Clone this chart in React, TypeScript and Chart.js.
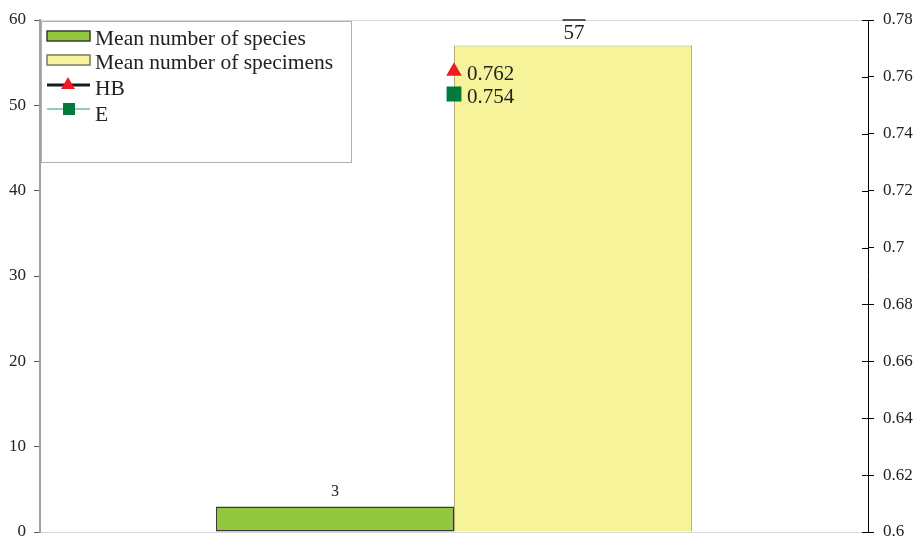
import React, { useEffect, useRef } from 'react';
import { Chart, registerables } from 'chart.js';

Chart.register(...registerables);

const categories = [''];
const speciesValues = [3];
const specimensValues = [57];
const hbValues = [0.762];
const eValues = [0.754];
const seriesNames = ['Mean number of species', 'Mean number of specimens', 'HB', 'E'];
const leftMin = 0;
const leftMax = 60;
const leftStep = 10;
const rightMin = 0.6;
const rightMax = 0.78;
const rightStep = 0.02;

const FONT = '"Liberation Serif", "Times New Roman", serif';
const GREEN = '#93C83E';
const YELLOW = '#F6F39B';
const RED = '#ED1C24';
const DKGREEN = '#007A3D';
const TEAL = '#6BBF9E';

const fmt = (v: number) => String(Number(v.toFixed(2)));

const labelsPlugin = {
  id: 'customLabels',
  afterDatasetsDraw(chart: any) {
    const ctx = chart.ctx;
    ctx.save();
    ctx.fillStyle = '#222';
    ctx.textBaseline = 'alphabetic';
    const m0 = chart.getDatasetMeta(0);
    m0.data.forEach((el: any, i: number) => {
      ctx.font = `16px ${FONT}`;
      ctx.textAlign = 'center';
      ctx.fillText(String(speciesValues[i]), el.x, el.y - 10);
    });
    const m1 = chart.getDatasetMeta(1);
    m1.data.forEach((el: any, i: number) => {
      ctx.font = `21px ${FONT}`;
      ctx.textAlign = 'center';
      const tx = el.x + 1;
      const ty = el.y - 7;
      const txt = String(specimensValues[i]);
      ctx.fillText(txt, tx, ty);
      const w = ctx.measureText(txt).width;
      ctx.strokeStyle = '#555';
      ctx.lineWidth = 2;
      ctx.beginPath();
      ctx.moveTo(tx - w / 2 - 1, chart.chartArea.top);
      ctx.lineTo(tx + w / 2 + 1, chart.chartArea.top);
      ctx.stroke();
    });
    const lineLabel = (idx: number, vals: number[]) => {
      const m = chart.getDatasetMeta(idx);
      m.data.forEach((el: any, i: number) => {
        ctx.font = `21px ${FONT}`;
        ctx.textAlign = 'left';
        ctx.fillText(vals[i].toFixed(3), el.x + 13, el.y + 9);
      });
    };
    lineLabel(2, hbValues);
    lineLabel(3, eValues);
    ctx.restore();
  },
};

const axisPlugin = {
  id: 'rightTicksInward',
  afterDraw(chart: any) {
    const ctx = chart.ctx;
    const s = chart.scales.y1;
    ctx.save();
    ctx.strokeStyle = '#000';
    ctx.lineWidth = 1;
    s.ticks.forEach((t: any, i: number) => {
      const y = Math.round(s.getPixelForTick(i)) + 0.5;
      ctx.beginPath();
      ctx.moveTo(s.left - 6, y);
      ctx.lineTo(s.left, y);
      ctx.stroke();
    });
    ctx.restore();
  },
};

const legendPlugin = {
  id: 'boxLegend',
  afterDraw(chart: any) {
    const ctx = chart.ctx;
    const x0 = 41.5, y0 = 21.5, w = 310, h = 141;
    ctx.save();
    ctx.fillStyle = '#fff';
    ctx.fillRect(x0, y0, w, h);
    ctx.strokeStyle = '#b0b0b0';
    ctx.lineWidth = 1;
    ctx.strokeRect(x0, y0, w, h);
    const sx = 47, sw = 43;
    const rows = [36, 60, 85, 109];
    ctx.lineWidth = 1.5;
    ctx.fillStyle = GREEN;
    ctx.strokeStyle = '#3a3a3a';
    ctx.fillRect(sx, rows[0] - 5, sw, 10);
    ctx.strokeRect(sx, rows[0] - 5, sw, 10);
    ctx.fillStyle = YELLOW;
    ctx.strokeStyle = '#7a7a60';
    ctx.fillRect(sx, rows[1] - 5, sw, 10);
    ctx.strokeRect(sx, rows[1] - 5, sw, 10);
    ctx.strokeStyle = '#1a1a1a';
    ctx.lineWidth = 3;
    ctx.beginPath();
    ctx.moveTo(sx, rows[2]);
    ctx.lineTo(sx + sw, rows[2]);
    ctx.stroke();
    ctx.fillStyle = RED;
    ctx.beginPath();
    ctx.moveTo(68, rows[2] - 8);
    ctx.lineTo(75, rows[2] + 4);
    ctx.lineTo(61, rows[2] + 4);
    ctx.closePath();
    ctx.fill();
    ctx.strokeStyle = TEAL;
    ctx.lineWidth = 1.5;
    ctx.beginPath();
    ctx.moveTo(sx, rows[3]);
    ctx.lineTo(sx + sw, rows[3]);
    ctx.stroke();
    ctx.fillStyle = DKGREEN;
    ctx.fillRect(63, rows[3] - 6, 12, 12);
    ctx.fillStyle = '#222';
    ctx.font = `21.5px ${FONT}`;
    ctx.textAlign = 'left';
    ctx.textBaseline = 'alphabetic';
    ctx.fillText(seriesNames[0], 95, 45);
    ctx.fillText(seriesNames[1], 95, 69);
    ctx.fillText(seriesNames[2], 95, 95);
    ctx.fillText(seriesNames[3], 95, 121);
    ctx.restore();
  },
};

export default function App() {
  const ref = useRef<HTMLCanvasElement>(null);
  useEffect(() => {
    document.body.style.margin = '0';
    const chart = new Chart(ref.current as HTMLCanvasElement, {
      data: {
        labels: categories,
        datasets: [
          {
            type: 'bar',
            label: seriesNames[0],
            data: speciesValues,
            backgroundColor: GREEN,
            borderColor: '#3a3a3a',
            borderWidth: 1.5,
            borderSkipped: false,
            categoryPercentage: 0.575,
            barPercentage: 1,
            yAxisID: 'y',
            order: 2,
          },
          {
            type: 'bar',
            label: seriesNames[1],
            data: specimensValues,
            backgroundColor: YELLOW,
            borderColor: '#b5ae72',
            borderWidth: 1,
            borderSkipped: 'bottom',
            categoryPercentage: 0.575,
            barPercentage: 1,
            yAxisID: 'y',
            order: 2,
          },
          {
            type: 'line',
            label: seriesNames[2],
            data: hbValues,
            borderColor: '#1a1a1a',
            backgroundColor: RED,
            pointBackgroundColor: RED,
            pointBorderWidth: 0,
            pointStyle: 'triangle',
            pointRadius: 9,
            yAxisID: 'y1',
            order: 1,
          },
          {
            type: 'line',
            label: seriesNames[3],
            data: eValues,
            borderColor: TEAL,
            backgroundColor: DKGREEN,
            pointBackgroundColor: DKGREEN,
            pointBorderWidth: 0,
            pointStyle: 'rect',
            pointRadius: 10.5,
            yAxisID: 'y1',
            order: 1,
          },
        ],
      } as any,
      options: {
        animation: false,
        responsive: false,
        layout: { autoPadding: false, padding: { top: 20, bottom: 6, left: 0, right: 0 } },
        plugins: { legend: { display: false }, tooltip: { enabled: false } },
        scales: {
          x: { display: false },
          y: {
            position: 'left',
            min: leftMin,
            max: leftMax,
            ticks: {
              stepSize: leftStep,
              color: '#222',
              font: { family: FONT, size: 17 },
              padding: 8,
            },
            grid: {
              color: (c: any) =>
                c.tick && (c.tick.value === leftMin || c.tick.value === leftMax) ? '#d8d8d8' : 'rgba(0,0,0,0)',
              tickColor: '#555',
              tickLength: 6,
              lineWidth: 1,
            },
            border: { display: true, color: '#a0a0a0', width: 2 },
            afterFit: (s: any) => { s.width = 40; s.paddingTop = 0; s.paddingBottom = 0; },
          },
          y1: {
            position: 'right',
            min: rightMin,
            max: rightMax,
            ticks: {
              stepSize: rightStep,
              color: '#222',
              font: { family: FONT, size: 17 },
              padding: 9,
              callback: (v: any) => fmt(Number(v)),
            },
            grid: {
              drawOnChartArea: false,
              tickColor: '#000',
              tickLength: 6,
            },
            border: { display: true, color: '#000', width: 1 },
            afterFit: (s: any) => { s.width = 50; s.paddingTop = 0; s.paddingBottom = 0; },
          },
        },
      } as any,
      plugins: [labelsPlugin, axisPlugin, legendPlugin],
    });
    return () => chart.destroy();
  }, []);
  return (
    <div style={{ width: 918, height: 538 }}>
      <canvas ref={ref} width={918} height={538} style={{ display: 'block' }} />
    </div>
  );
}
